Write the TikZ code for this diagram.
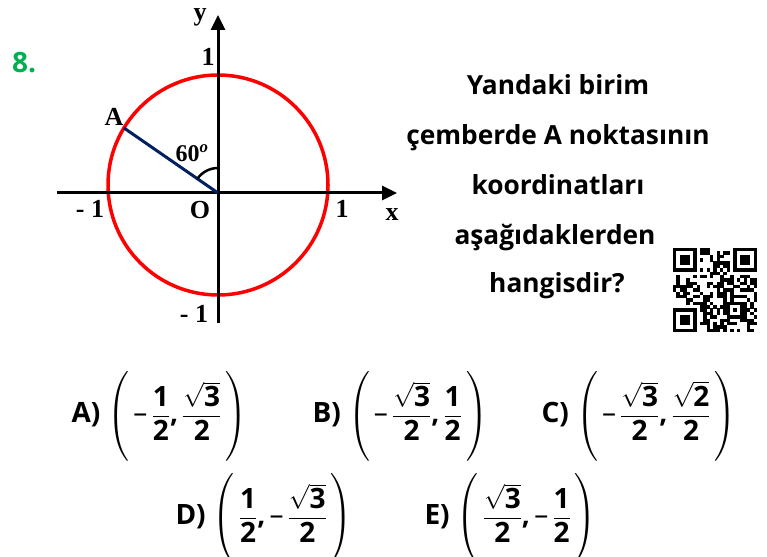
\documentclass[tikz,border=0pt]{standalone}
\usepackage{amsmath}
\usepackage{fontspec}
\setmainfont{Open Sans}
\newfontfamily\tnr{Liberation Serif}
\usetikzlibrary{arrows.meta}
\tikzset{every picture/.style={line width=3pt}}
\definecolor{lineblue}{RGB}{0,32,96}
\definecolor{qgreen}{RGB}{0,176,80}

\newcommand{\fr}[2]{\dfrac{#1}{#2}}
\newcommand{\nm}[1]{\text{#1}}
\newcommand{\mi}{\text{\mdseries\textendash}\,}
\newcommand{\cm}{\nm{,}\,}
\newcommand{\opt}[1]{\(\delimiterfactor=1000 \delimitershortfall=0pt \left(\rule[-36pt]{0pt}{86pt}\,#1\,\right)\)}

\begin{document}
\begin{tikzpicture}[x=1pt, y=1pt,
    lbl/.style={font=\tnr\bfseries\fontsize{26}{30}\selectfont, inner sep=0pt},
    qtxt/.style={font=\bfseries\fontsize{26.3}{32}\selectfont, anchor=base},
    choice/.style={font=\bfseries\fontsize{28}{34}\selectfont, anchor=base west, inner sep=0pt},
    tip/.style={-{Triangle[length=15pt,width=14pt]}}]
  \useasboundingbox (0,0) rectangle (767,556);

  % unit circle and axes
  \coordinate (O) at (218,363);
  \coordinate (C) at (218,371);
  \coordinate (A) at (124,428);
  \coordinate (xl) at (57,363);
  \coordinate (xr) at (397,363);
  \coordinate (yb) at (218,233);
  \coordinate (yt) at (218,541);
  \draw[red, line width=3.5pt] (C) circle[radius=110];
  \draw[tip] (xl) -- (xr);
  \draw[tip] (yb) -- (yt);
  \draw[lineblue] (O) -- (A);
  \draw[line width=2.5pt] (O) ++(90:25) arc[start angle=90, end angle=145, radius=25];

  \node[lbl] (ylab) at (200,539) {y};
  \node[lbl] (ytop) at (208,499) {1};
  \node[lbl] (alab) at (114,439) {A};
  \node[lbl, font=\tnr\bfseries\fontsize{24}{28}\selectfont] (ang) at (192,403) {60\textsuperscript{\itshape o}};
  \node[lbl] (olab) at (200,346) {O};
  \node[lbl] (xneg) at (90,347) {- 1};
  \node[lbl] (xpos) at (342,347) {1};
  \node[lbl] (xlab) at (392,341) {x};
  \node[lbl] (yneg) at (194,242) {- 1};

  \node[font=\bfseries\fontsize{28}{34}\selectfont, text=qgreen, inner sep=0pt] (num) at (24,493) {8.};

  % question
  \node[qtxt] (q1) at (558,461) {Yandaki birim};
  \node[qtxt] (q2) at (558,411) {çemberde A noktasının};
  \node[qtxt] (q3) at (558,361) {koordinatları};
  \node[qtxt] (q4) at (555,311) {aşağıdaklerden};
  \node[qtxt] (q5) at (557,263) {hangisdir?};

  % qr code
  \begin{scope}[shift={(673pt,308pt)}, x=3.36pt, y=-3.36pt]
    \foreach \fx/\fy in {0/0, 18/0, 0/18}{
      \fill (\fx,\fy) rectangle ++(7,7);
      \fill[white] (\fx+1,\fy+1) rectangle ++(5,5);
      \fill (\fx+2,\fy+2) rectangle ++(3,3);
    }
    \fill (16,16) rectangle ++(5,5);
    \fill[white] (17,17) rectangle ++(3,3);
    \fill (18,18) rectangle ++(1,1);
    \foreach \k in {8,10,...,16}{
      \fill (\k,6) rectangle ++(1,1);
      \fill (6,\k) rectangle ++(1,1);
    }
    \pgfmathsetseed{42}
    \foreach \i in {0,...,24}{
      \foreach \j in {0,...,24}{
        \pgfmathtruncatemacro{\busy}{(\i<8 && \j<8) || (\i>16 && \j<8) || (\i<8 && \j>16) || \i==6 || \j==6 || (\i>15 && \i<21 && \j>15 && \j<21)}
        \pgfmathtruncatemacro{\dark}{rnd<0.5}
        \ifnum\busy=0 \ifnum\dark=1 \fill (\i,\j) rectangle ++(1.03,1.03); \fi\fi
      }
    }
  \end{scope}

  % choices
  \node[choice] (ca) at (70,133) {A) \opt{\mi\fr{\nm{1}}{\nm{2}}\cm\fr{\sqrt{\nm{3}}}{\nm{2}}}};
  \node[choice] (cb) at (311,133) {B) \opt{\mi\fr{\sqrt{\nm{3}}}{\nm{2}}\cm\fr{\nm{1}}{\nm{2}}}};
  \node[choice] (cc) at (540,133) {C) \opt{\mi\fr{\sqrt{\nm{3}}}{\nm{2}}\cm\fr{\sqrt{\nm{2}}}{\nm{2}}}};
  \node[choice] (cd) at (174,31) {D) \opt{\fr{\nm{1}}{\nm{2}}\cm\mi\fr{\sqrt{\nm{3}}}{\nm{2}}}};
  \node[choice] (ce) at (423,31) {E) \opt{\fr{\sqrt{\nm{3}}}{\nm{2}}\cm\mi\fr{\nm{1}}{\nm{2}}}};
\end{tikzpicture}
\end{document}
